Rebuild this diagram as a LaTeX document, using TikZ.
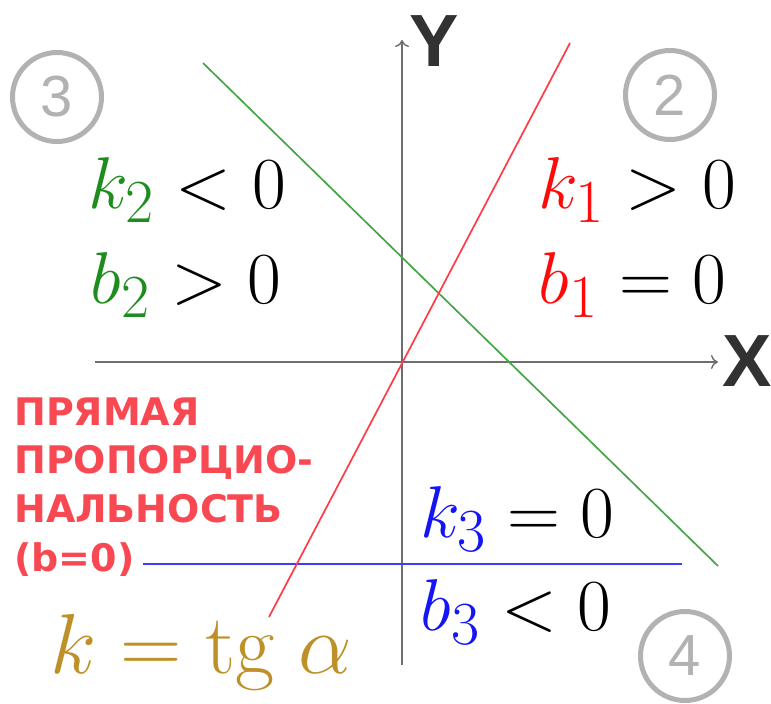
\documentclass[tikz,border=0pt]{standalone}
\usepackage{fontspec}
\newfontfamily\labfont{Liberation Sans}
\newfontfamily\capfont{DejaVu Sans}
\usetikzlibrary{arrows.meta}
\definecolor{axisgray}{RGB}{110,110,110}
\definecolor{circgray}{RGB}{178,178,178}
\definecolor{lgreen}{RGB}{70,165,70}
\definecolor{tgreen}{RGB}{30,140,30}
\definecolor{lred}{RGB}{255,60,70}
\definecolor{tred}{RGB}{255,10,10}
\definecolor{lblue}{RGB}{60,60,255}
\definecolor{tblue}{RGB}{20,20,245}
\definecolor{tgold}{RGB}{190,145,40}
\definecolor{capred}{RGB}{248,72,82}
\definecolor{labdark}{RGB}{50,50,50}
\tikzset{
  axis/.style={draw=axisgray, line width=1.6pt, -{To[length=7pt,width=14pt,line width=1.4pt]}},
  quad/.style={circle, draw=circgray, line width=5pt, minimum size=89pt, inner sep=0pt,
    text=circgray, font=\labfont\fontsize{58}{60}\selectfont},
  eq/.style={anchor=base west, inner sep=0pt, font=\Huge, scale=2.95},
  axlab/.style={inner sep=0pt, text=labdark, font=\labfont\bfseries\fontsize{74}{76}\selectfont},
  capline/.style={anchor=base west, inner sep=0pt, text=capred, font=\capfont\bfseries\fontsize{38}{40}\selectfont},
  graph/.style={line width=1.7pt}
}
\begin{document}
\begin{tikzpicture}[x=1pt,y=-1pt]
\useasboundingbox (0,0) rectangle (771,704);
% axes
\coordinate (xs) at (95,362);
\coordinate (xe) at (718,362);
\coordinate (ys) at (402,665);
\coordinate (ye) at (402,40);
\draw[axis] (xs) -- (xe);
\draw[axis] (ys) -- (ye);
\node[axlab] (xl) at (747,361) {X};
\node[axlab] (yl) at (434,41) {Y};
% lines
\coordinate (r1) at (269,617);
\coordinate (r2) at (570,43);
\coordinate (g1) at (203,63);
\coordinate (g2) at (718,566);
\coordinate (b1) at (143,564);
\coordinate (b2) at (682,564);
\draw[graph, lgreen] (g1) -- (g2);
\draw[graph, lblue] (b1) -- (b2);
\draw[graph, lred] (r1) -- (r2);
% quadrant circles
\node[quad] (q3) at (57,97) {3};
\node[quad] (q2) at (670,95) {2};
\node[quad] (q4) at (685,656) {4};
% equations
\node[eq] (k2) at (88,208) {$\color{tgreen}k_2\color{black} < 0$};
\node[eq] (bb2) at (90,303) {$\color{tgreen}b_2\color{black} > 0$};
\node[eq] (k1) at (538,208) {$\color{tred}k_1\color{black} > 0$};
\node[eq] (bb1) at (538,303) {$\color{tred}b_1\color{black} = 0$};
\node[eq] (k3) at (420,537) {$\color{tblue}k_3\color{black} = 0$};
\node[eq] (bb3) at (420,630) {$\color{tblue}b_3\color{black} < 0$};
\node[eq, text=tgold, scale=1.16] (ktg) at (50,673) {$k = \mathrm{tg}\;\alpha$};
% caption
\node[capline] (c1) at (14,425) {ПРЯМАЯ};
\node[capline] (c2) at (14,473) {ПРОПОРЦИО-};
\node[capline] (c3) at (14,522) {НАЛЬНОСТЬ};
\node[capline] (c4) at (14,571) {(b=0)};
\end{tikzpicture}
\end{document}
